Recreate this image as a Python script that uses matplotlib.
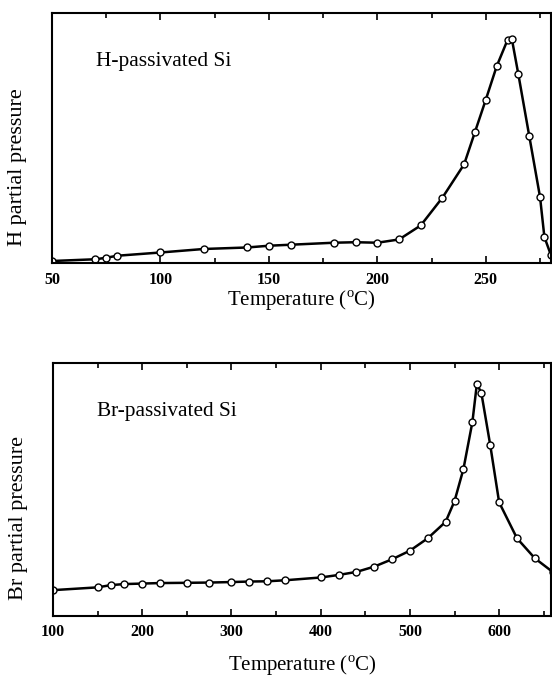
import numpy as np
import matplotlib
matplotlib.use('Agg')
import matplotlib.pyplot as plt
from matplotlib.ticker import MultipleLocator

plt.rcParams['font.family'] = ['Liberation Serif', 'DejaVu Serif']
plt.rcParams['mathtext.fontset'] = 'custom'
plt.rcParams['mathtext.rm'] = 'Liberation Serif'

# H-passivated Si (y in % of axis height, arbitrary units)
h_temp = [50, 70, 75, 80, 100, 120, 140, 150, 160, 180, 190, 200, 210,
          220, 230, 240, 245, 250, 255, 260, 262, 265, 270, 275, 277, 280]
h_pres = [0.9, 1.6, 2.2, 3.0, 4.3, 5.7, 6.3, 7.0, 7.4, 8.2, 8.4, 8.2, 9.5,
          15.1, 26.2, 39.5, 52.4, 65.3, 78.6, 89.1, 89.5, 75.4, 50.9, 26.4, 10.5, 3.3]

# Br-passivated Si
br_temp = [100, 150, 165, 180, 200, 220, 250, 275, 300, 320, 340, 360, 400,
           420, 440, 460, 480, 500, 520, 540, 550, 560, 570, 575, 580, 590,
           600, 620, 640, 660]
br_pres = [10.1, 11.2, 12.1, 12.5, 12.7, 12.9, 13.0, 13.1, 13.3, 13.5, 13.6, 14.0, 15.1,
           16.1, 17.3, 19.4, 22.3, 25.7, 30.6, 37.1, 45.3, 58.0, 76.5, 91.5, 88.2, 67.5,
           44.8, 30.6, 22.7, 17.3]

fig = plt.figure(figsize=(5.52, 6.78), dpi=100)
ax1 = fig.add_axes([0.0942, 0.6117, 0.9038, 0.3696])
ax2 = fig.add_axes([0.0960, 0.0919, 0.9020, 0.3731])

def style(ax, major, minor):
    ax.xaxis.set_major_locator(MultipleLocator(major))
    ax.xaxis.set_minor_locator(MultipleLocator(minor))
    ax.set_yticks([])
    ax.tick_params(axis='x', which='both', direction='in', top=True, labelsize=11.5, pad=6)
    ax.tick_params(axis='x', which='major', length=5, width=1.2)
    ax.tick_params(axis='x', which='minor', length=3.5, width=1.2)
    for lab in ax.get_xticklabels():
        lab.set_fontweight('bold')
    for s in ax.spines.values():
        s.set_linewidth(1.5)

kw = dict(color='black', lw=1.8, marker='o', ms=5, mfc='white', mec='black', mew=1.0)

ax1.plot(h_temp, h_pres, **kw)
ax1.set_xlim(50, 280)
ax1.set_ylim(0, 100)
style(ax1, 50, 25)
ax1.set_ylabel('H partial pressure', fontsize=16)
ax1.yaxis.set_label_coords(-0.05, 0.385)
ax1.set_xlabel(r'Temperature ($^{\rm o}$C)', fontsize=15, labelpad=1)
ax1.text(0.088, 0.804, 'H-passivated Si', transform=ax1.transAxes, fontsize=15.5, va='center')

ax2.plot(br_temp, br_pres, **kw)
ax2.set_xlim(100, 658)
ax2.set_ylim(0, 100)
style(ax2, 100, 50)
ax2.set_ylabel('Br partial pressure', fontsize=16)
ax2.yaxis.set_label_coords(-0.05, 0.386)
ax2.set_xlabel(r'Temperature ($^{\rm o}$C)', fontsize=15, labelpad=10)
ax2.text(0.088, 0.806, 'Br-passivated Si', transform=ax2.transAxes, fontsize=15.3, va='center')

fig.savefig('out.png', dpi=100)
